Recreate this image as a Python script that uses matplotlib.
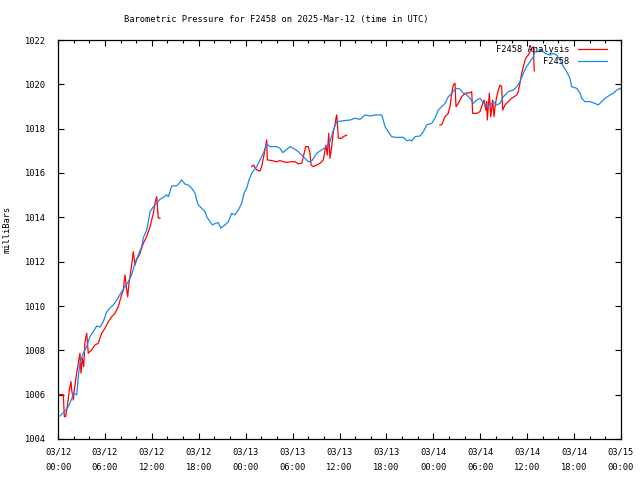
import numpy as np
import pandas as pd
import matplotlib
matplotlib.use("Agg")
import matplotlib.pyplot as plt
import matplotlib.dates as mdates

# -----------------------------
# Data (hours after 2025-03-12 00:00 UTC, pressure in mb)
# -----------------------------
START = pd.Timestamp("2025-03-12 00:00")

obs_hours = [
    0.26, 0.68, 1.32, 1.75, 1.96, 2.39, 2.60, 2.81, 3.24, 3.67, 4.09, 4.51, 4.95, 5.37,
    5.79, 6.23, 6.65, 7.07, 7.51, 7.71, 8.15, 8.57, 8.99, 9.42, 9.85, 10.27, 10.70, 10.91,
    11.34, 11.55, 11.77, 12.19, 12.62, 13.04, 13.47, 13.90, 14.11, 14.54, 15.18, 15.51,
    15.82, 16.24, 16.66, 17.10, 17.52, 17.74, 17.94, 18.38, 18.80, 19.02, 19.44, 19.73,
    20.17, 20.50, 20.81, 21.36, 21.78, 22.21, 22.63, 23.06, 23.49, 23.79, 24.13, 24.43,
    24.77, 25.41, 25.83, 26.26, 26.69, 27.11, 27.97, 28.39, 28.74, 29.25, 29.67, 30.31,
    30.73, 31.17, 31.59, 32.01, 32.44, 33.08, 33.72, 34.36, 34.78, 35.21, 35.64, 36.49,
    37.34, 37.98, 38.62, 39.26, 39.90, 40.54, 41.40, 41.60, 41.82, 42.24, 42.67, 43.10,
    44.16, 44.59, 45.02, 45.23, 45.66, 46.29, 46.72, 47.15, 47.79, 48.21, 48.63, 49.07,
    49.49, 49.91, 50.35, 50.77, 51.06, 51.41, 51.83, 52.27, 52.69, 53.11, 53.55, 53.97,
    54.39, 54.82, 55.25, 55.67, 56.10, 56.53, 56.95, 57.59, 58.23, 58.66, 59.08, 59.51,
    59.94, 60.36, 60.78, 61.00, 61.42, 61.86, 62.28, 62.92, 63.34, 63.78, 64.20, 64.62,
    65.05, 65.48, 65.69, 66.33, 66.76, 66.97, 67.39, 68.03, 68.67, 69.10, 69.53, 69.95,
    70.59, 71.02, 71.45, 71.87, 72.00,
]
obs_mb = [
    1005.04, 1005.19, 1005.46, 1005.81, 1006.08, 1005.99, 1006.81, 1007.43, 1007.88, 1008.17,
    1008.62, 1008.84, 1009.10, 1009.05, 1009.29, 1009.74, 1009.91, 1010.05, 1010.27, 1010.39,
    1010.65, 1010.87, 1011.10, 1011.40, 1011.94, 1012.30, 1012.68, 1013.07, 1013.43, 1013.80,
    1014.26, 1014.48, 1014.63, 1014.81, 1014.90, 1015.01, 1014.93, 1015.41, 1015.43, 1015.54,
    1015.69, 1015.50, 1015.46, 1015.31, 1015.09, 1014.78, 1014.56, 1014.41, 1014.26, 1014.03,
    1013.80, 1013.66, 1013.73, 1013.76, 1013.51, 1013.66, 1013.80, 1014.18, 1014.11, 1014.33,
    1014.63, 1015.09, 1015.31, 1015.69, 1015.99, 1016.29, 1016.59, 1016.89, 1017.31, 1017.19,
    1017.19, 1017.11, 1016.92, 1017.07, 1017.19, 1017.07, 1016.96, 1016.81, 1016.66, 1016.51,
    1016.54, 1016.89, 1017.04, 1017.19, 1017.41, 1017.94, 1018.31, 1018.36, 1018.39, 1018.47,
    1018.42, 1018.62, 1018.57, 1018.62, 1018.62, 1018.39, 1018.09, 1017.86, 1017.64, 1017.61,
    1017.61, 1017.46, 1017.49, 1017.44, 1017.64, 1017.67, 1017.86, 1018.17, 1018.24, 1018.47,
    1018.84, 1018.99, 1019.14, 1019.44, 1019.60, 1019.78, 1019.82, 1019.78, 1019.60, 1019.52,
    1019.37, 1019.14, 1019.29, 1019.37, 1019.18, 1018.99, 1019.07, 1019.22, 1019.07, 1019.14,
    1019.44, 1019.67, 1019.74, 1019.89, 1020.12, 1020.50, 1020.80, 1021.02, 1021.25, 1021.47,
    1021.47, 1021.55, 1021.40, 1021.32, 1021.40, 1021.32, 1021.10, 1020.80, 1020.57, 1020.27,
    1019.89, 1019.82, 1019.60, 1019.37, 1019.22, 1019.22, 1019.14, 1019.07, 1019.22, 1019.37,
    1019.52, 1019.60, 1019.74, 1019.82, 1019.78,
]

# analysis series, NaN marks a gap in the record
ana_hours = [
    0.00, 0.68, 0.81, 0.98, 1.24, 1.45, 1.66, 1.75, 1.96, 2.08, 2.39, 2.60, 2.81, 2.94,
    3.11, 3.29, 3.45, 3.67, 3.87, 4.31, 4.73, 5.15, 5.59, 6.01, 6.43, 6.87, 7.29, 7.71,
    8.06, 8.35, 8.57, 8.79, 8.91, 9.08, 9.34, 9.63, 9.85, 10.06, 10.49, 10.91, 11.34,
    11.77, 12.19, 12.40, 12.62, 12.83, 13.04,
    18.00,
    24.77, 24.98, 25.41, 25.83, 26.05, 26.47, 26.69, 26.77, 27.33, 27.97, 28.39, 28.81,
    29.25, 29.89, 30.31, 30.73, 31.17, 31.37, 31.68, 32.01, 32.23, 32.36, 32.65, 33.08,
    33.51, 33.93, 34.15, 34.27, 34.44, 34.62, 34.78, 35.00, 35.21, 35.42, 35.55, 35.64,
    35.72, 35.85, 36.28, 36.49, 36.92,
    42.00,
    48.85, 49.07, 49.49, 49.91, 50.13, 50.35, 50.55, 50.77, 50.90, 51.19, 51.63, 52.05,
    52.69, 52.91, 53.03, 53.55, 53.97, 54.32, 54.49, 54.71, 54.82, 54.90, 55.16, 55.34,
    55.59, 55.76, 55.89, 56.10, 56.31, 56.53, 56.74, 56.87, 57.17, 57.59, 58.02, 58.66,
    58.86, 59.08, 59.30, 59.51, 59.73, 59.94, 60.14, 60.36, 60.58, 60.78, 60.91,
]
ana_mb = [
    1006.00, 1006.00, 1005.01, 1005.01, 1005.61, 1006.21, 1006.59, 1006.21, 1005.76, 1006.21,
    1006.97, 1007.42, 1007.87, 1006.97, 1007.64, 1007.26, 1008.39, 1008.77, 1007.87, 1008.02,
    1008.24, 1008.32, 1008.77, 1009.00, 1009.29, 1009.52, 1009.67, 1009.97, 1010.42, 1010.72,
    1011.40, 1010.72, 1010.42, 1011.03, 1011.63, 1012.45, 1011.85, 1012.08, 1012.38, 1012.83,
    1013.13, 1013.58, 1014.18, 1014.63, 1014.93, 1013.96, 1013.96,
    np.nan,
    1016.29, 1016.36, 1016.14, 1016.09, 1016.29, 1017.04, 1017.49, 1016.59, 1016.56, 1016.51,
    1016.56, 1016.51, 1016.48, 1016.51, 1016.51, 1016.41, 1016.44, 1016.74, 1017.19, 1017.19,
    1016.89, 1016.36, 1016.29, 1016.36, 1016.44, 1016.59, 1017.04, 1017.26, 1016.81, 1017.79,
    1016.66, 1017.19, 1017.86, 1018.17, 1018.47, 1018.62, 1018.31, 1017.57, 1017.57, 1017.64,
    1017.71,
    np.nan,
    1018.17, 1018.17, 1018.54, 1018.69, 1018.99, 1019.60, 1019.97, 1020.05, 1018.99, 1019.14,
    1019.44, 1019.60, 1019.62, 1019.67, 1018.69, 1018.69, 1018.77, 1019.14, 1019.29, 1018.84,
    1019.22, 1018.39, 1019.60, 1018.54, 1019.29, 1018.54, 1018.99, 1019.44, 1019.74, 1019.97,
    1019.89, 1018.84, 1019.07, 1019.22, 1019.37, 1019.52, 1019.67, 1020.05, 1020.50, 1020.80,
    1021.10, 1021.25, 1021.32, 1021.47, 1021.63, 1021.70, 1020.60,
]

STATION = "F2458"
TITLE = "Barometric Pressure for F2458 on 2025-Mar-12 (time in UTC)"
Y_TICKS = list(range(1004, 1023, 2))

obs_t = START + pd.to_timedelta(obs_hours, unit="h")
ana_t = START + pd.to_timedelta(ana_hours, unit="h")

# -----------------------------
# Style
# -----------------------------
RED = "#ff0000"
BLUE = "#1a88f5"
FS = 6.3

plt.rcParams.update({
    "font.family": "DejaVu Sans Mono",
    "font.size": FS,
})

fig = plt.figure(figsize=(6.4, 4.8), dpi=100)
ax = fig.add_axes([58 / 640, 41 / 480, 563 / 640, 399 / 480])

ax.plot(ana_t, ana_mb, color=RED, linewidth=0.9, label=f"{STATION} Analysis")
ax.plot(obs_t, obs_mb, color=BLUE, linewidth=0.9, label=STATION)

ax.set_xlim(START, START + pd.Timedelta(hours=72))
ax.set_ylim(1004, 1022)
ax.set_yticks(Y_TICKS)

ax.xaxis.set_major_locator(mdates.HourLocator(byhour=range(0, 24, 6)))
ax.xaxis.set_minor_locator(mdates.HourLocator(byhour=range(0, 24, 2)))
ax.xaxis.set_major_formatter(mdates.DateFormatter("%m/%d\n%H:%M"))
for lbl in ax.get_xticklabels():
    lbl.set_linespacing(2.0)

ax.tick_params(which="both", direction="in", top=True, right=True, width=0.8)
ax.tick_params(which="major", length=4.5, pad=6)
ax.tick_params(which="minor", length=2.3)
ax.tick_params(axis="y", pad=9)
for s in ax.spines.values():
    s.set_linewidth(0.9)

ax.set_ylabel("milliBars")
ax.yaxis.set_label_coords(-0.082, 0.526)
ax.set_title(TITLE, x=(276 - 58) / 563, pad=13, fontsize=FS)

ax.legend(loc="upper right", frameon=False, markerfirst=False,
          handlelength=3.4, handletextpad=0.9, labelspacing=0.35,
          borderaxespad=0.2, bbox_to_anchor=(0.985, 1.0))

fig.savefig("out.png", dpi=100)
